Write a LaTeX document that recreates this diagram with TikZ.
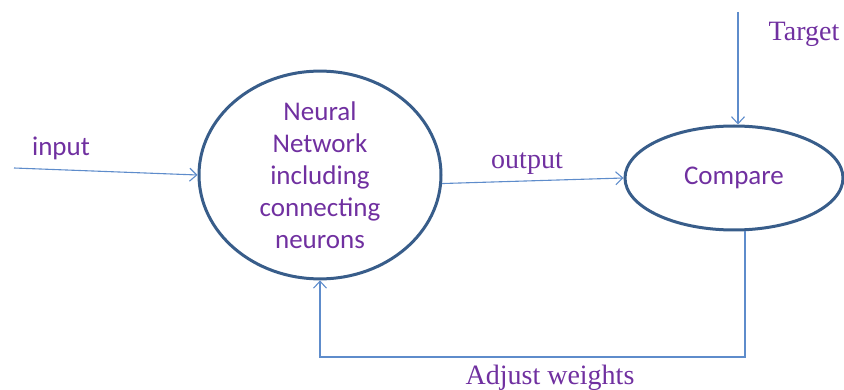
\documentclass[tikz,border=0pt]{standalone}
\usepackage{fontspec}
\setmainfont{Liberation Serif}
\newfontfamily\labelsans{Carlito}
\usetikzlibrary{shapes.geometric,arrows.meta}
\definecolor{txtpurple}{HTML}{7030A0}
\definecolor{rimblue}{HTML}{385D8A}
\definecolor{flowblue}{HTML}{5E8CCB}
\tikzset{
  blob/.style={ellipse, draw=rimblue, line width=3pt, inner sep=0pt,
    text=txtpurple, font=\labelsans\fontsize{27}{32}\selectfont, align=center},
  flow/.style={draw=flowblue, line width=1.1pt,
    -{Straight Barb[length=7pt,width=13pt,line width=1.1pt]}},
  sanslabel/.style={text=txtpurple, font=\labelsans\fontsize{27}{32}\selectfont, inner sep=0pt},
  seriflabel/.style={text=txtpurple, font=\fontsize{28}{32}\selectfont, inner sep=0pt}
}
\begin{document}
\begin{tikzpicture}[x=1pt,y=-1pt]
  \useasboundingbox (0,0) rectangle (844,390);

  % processing blocks
  \node[blob, minimum width=242pt, minimum height=174pt] (nn) at (320,175)
    {Neural\\Network\\including\\connecting\\neurons};
  \node[blob, minimum width=218pt, minimum height=104pt] (cmp) at (734,178) {Compare};

  % free ends of the open connectors
  \coordinate (src) at (14,168);
  \coordinate (tgt) at (738,12);
  \coordinate (fb) at (745,357);

  % labels
  \node[sanslabel] (lin) at (61,148) {input};
  \node[seriflabel] (lout) at (527,164) {output};
  \node[seriflabel] (ltgt) at (804,34) {Target};
  \node[seriflabel] (ladj) at (550,378) {Adjust weights};

  % connectors
  \draw[flow] (src) -- (nn.west);
  \draw[flow] (nn.-4) -- (cmp.west);
  \draw[flow] (tgt) -- (tgt |- cmp.north);
  \draw[flow] (fb |- cmp.south) -- (fb) -| (nn.south);
\end{tikzpicture}
\end{document}
